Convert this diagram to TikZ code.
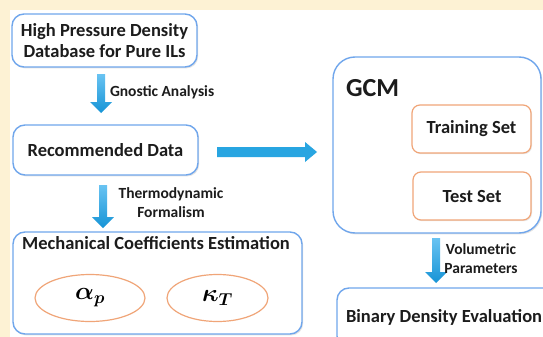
\documentclass[tikz,border=0pt]{standalone}
\usepackage{fontspec}
\setmainfont{Carlito}
\usepackage{amsmath}
\usepackage{bm}
\usetikzlibrary{shapes.geometric,shadows,calc}
\definecolor{cream}{RGB}{253,242,212}
\definecolor{boxblue}{RGB}{112,166,236}
\definecolor{boxorange}{RGB}{240,165,120}
\definecolor{txt}{RGB}{28,28,28}
\definecolor{arrtop}{RGB}{105,195,242}
\definecolor{arrbot}{RGB}{22,148,214}
\definecolor{arrmid}{RGB}{40,165,225}
\newcommand\vblockarrow[2]{%
  \shade[top color=arrtop,bottom color=arrbot] let \p1=(#1), \p2=(#2) in
    (\x1-4pt,\y1) -- (\x1+4pt,\y1) -- (\x1+4pt,\y2+11pt) -- (\x1+11pt,\y2+11pt)
    -- (\x1,\y2) -- (\x1-11pt,\y2+11pt) -- (\x1-4pt,\y2+11pt) -- cycle;}
\newcommand\hblockarrow[2]{%
  \fill[arrmid] let \p1=(#1), \p2=(#2) in
    (\x1,\y1+5pt) -- (\x2-12pt,\y1+5pt) -- (\x2-12pt,\y1+10pt) -- (\x2,\y1)
    -- (\x2-12pt,\y1-10pt) -- (\x2-12pt,\y1-5pt) -- (\x1,\y1-5pt) -- cycle;}
\begin{document}
\begin{tikzpicture}[x=1pt,y=-1pt,
  bluebox/.style={draw=boxblue, line width=1.4pt, fill=white, rounded corners=12pt,
    drop shadow={shadow xshift=1.2pt, shadow yshift=-1.4pt, opacity=0.22, fill=gray}},
  orangebox/.style={draw=boxorange, line width=1.2pt, fill=white, rounded corners=8pt,
    drop shadow={shadow xshift=1pt, shadow yshift=-1.2pt, opacity=0.18, fill=gray}},
  oval/.style={ellipse, draw=boxorange, line width=1.2pt, fill=white, inner sep=0pt},
  maintext/.style={text=txt, font=\fontsize{18.5}{21}\selectfont\bfseries, align=center},
  labeltext/.style={text=txt, font=\fontsize{15.5}{19}\selectfont\bfseries, align=center},
  every node/.style={inner sep=0pt, outer sep=0pt}]
\useasboundingbox (0,0) rectangle (543,337);
\clip (0,0) rectangle (543,337);
\fill[cream] (0,0) rectangle (543,337);
\fill[white] (10,10) rectangle (543,337);

% left column
\node[bluebox, minimum width=185pt, minimum height=53pt] (db) at (104.5,40.5) {};
\node[maintext] (dbt) at (db.center) {High Pressure Density\\Database for Pure ILs};

\node[bluebox, minimum width=185pt, minimum height=50pt] (rec) at (105.5,150) {};
\node[maintext] (rect) at (rec.center) {Recommended Data};

\node[bluebox, minimum width=289pt, minimum height=102pt] (mech) at (157.5,283) {};
\node[maintext] (mecht) at (156,243) {Mechanical Coefficients Estimation};
\node[oval, minimum width=110pt, minimum height=47pt] (alpha) at (90,298)
  {\fontsize{23}{26}\selectfont$\bm{\alpha_p}$};
\node[oval, minimum width=101pt, minimum height=47pt] (kappa) at (217.5,298)
  {\fontsize{23}{26}\selectfont$\bm{\kappa_T}$};

% right column
\node[bluebox, rounded corners=22pt, minimum width=208pt, minimum height=176pt] (gcm) at (437,145) {};
\node[text=txt, font=\fontsize{26}{30}\selectfont\bfseries, anchor=west] (gcmt) at (346,88) {GCM};
\node[orangebox, minimum width=119pt, minimum height=48pt] (train) at (471.5,129) {};
\node[maintext] (traint) at (train.center) {Training Set};
\node[orangebox, minimum width=118pt, minimum height=48pt] (test) at (472,196) {};
\node[maintext] (testt) at (test.center) {Test Set};

\node[bluebox, minimum width=220pt, minimum height=60pt] (bin) at (447,318) {};
\node[maintext, anchor=west] (bint) at (346,317) {Binary Density Evaluation};

% arrows
\coordinate (a1s) at (101,74);  \coordinate (a1e) at (101,113);
\coordinate (a2s) at (103,185); \coordinate (a2e) at (103,228);
\coordinate (a3s) at (436,238); \coordinate (a3e) at (436,283);
\coordinate (h1s) at (217,152); \coordinate (h1e) at (317,152);
\vblockarrow{a1s}{a1e}
\vblockarrow{a2s}{a2e}
\vblockarrow{a3s}{a3e}
\hblockarrow{h1s}{h1e}

\node[labeltext, anchor=west] (l1) at (110,92) {Gnostic Analysis};
\node[labeltext] (l2) at (171,202.5) {Thermodynamic\\Formalism};
\node[labeltext] (l3) at (481,259) {Volumetric\\Parameters};
\end{tikzpicture}
\end{document}
